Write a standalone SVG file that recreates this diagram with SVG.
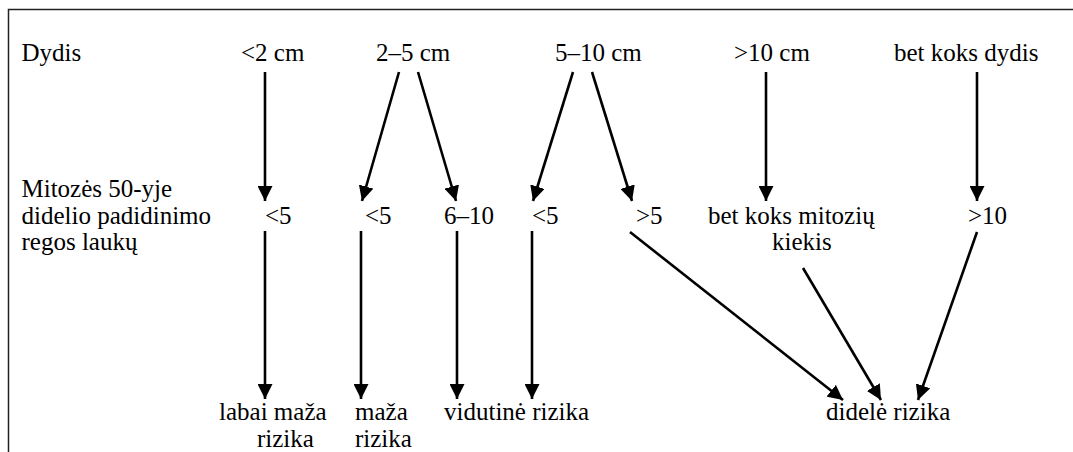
<svg xmlns="http://www.w3.org/2000/svg" width="1073" height="452" viewBox="0 0 1073 452">
<defs>
<marker id="ah" markerUnits="userSpaceOnUse" markerWidth="15" markerHeight="15" refX="14" refY="7" orient="auto" viewBox="0 0 14 14">
<path d="M0,0 L14,7 L0,14 z" fill="#000"/>
</marker>
</defs>
<rect width="1073" height="452" fill="#fff"/>
<path d="M8.5,452 V9.5 H1073" stroke="#222" stroke-width="1.5" fill="none"/>
<g id="labels">
<text font-family="Liberation Serif" font-size="25" x="21.5" y="61">Dydis</text>
<text font-family="Liberation Serif" font-size="25" x="21.5" y="197">Mitozės 50-yje</text>
<text font-family="Liberation Serif" font-size="25" x="21.5" y="223.5">didelio padidinimo</text>
<text font-family="Liberation Serif" font-size="25" x="21.5" y="250">regos laukų</text>
</g>
<g id="size-lt2"><text font-family="Liberation Serif" font-size="25" x="241" y="61">&lt;2 cm</text></g>
<g id="size-2-5"><text font-family="Liberation Serif" font-size="25" x="376" y="61">2–5 cm</text></g>
<g id="size-5-10"><text font-family="Liberation Serif" font-size="25" x="555" y="61">5–10 cm</text></g>
<g id="size-gt10"><text font-family="Liberation Serif" font-size="25" x="734" y="61">&gt;10 cm</text></g>
<g id="size-any"><text font-family="Liberation Serif" font-size="25" x="894" y="61">bet koks dydis</text></g>
<g id="m1"><text font-family="Liberation Serif" font-size="25" x="265" y="223.5">&lt;5</text></g>
<g id="m2"><text font-family="Liberation Serif" font-size="25" x="365" y="223.5">&lt;5</text></g>
<g id="m3"><text font-family="Liberation Serif" font-size="25" x="444" y="223.5">6–10</text></g>
<g id="m4"><text font-family="Liberation Serif" font-size="25" x="532" y="223.5">&lt;5</text></g>
<g id="m5"><text font-family="Liberation Serif" font-size="25" x="636" y="223.5">&gt;5</text></g>
<g id="m6"><text font-family="Liberation Serif" font-size="25" x="708" y="223.5">bet koks mitozių</text><text font-family="Liberation Serif" font-size="25" x="772" y="250">kiekis</text></g>
<g id="m7"><text font-family="Liberation Serif" font-size="25" x="968" y="223.5">&gt;10</text></g>
<g id="r1"><text font-family="Liberation Serif" font-size="25" x="219" y="420">labai maža</text><text font-family="Liberation Serif" font-size="25" x="257" y="446.5">rizika</text></g>
<g id="r2"><text font-family="Liberation Serif" font-size="25" x="355" y="420">maža</text><text font-family="Liberation Serif" font-size="25" x="355" y="446.5">rizika</text></g>
<g id="r3"><text font-family="Liberation Serif" font-size="25" x="444" y="420">vidutinė rizika</text></g>
<g id="r4"><text font-family="Liberation Serif" font-size="25" x="826" y="420">didelė rizika</text></g>
<g id="connectors" stroke="#000" stroke-width="2.6" fill="none" marker-end="url(#ah)">
<line x1="265" y1="72" x2="265" y2="201"/>
<line x1="399" y1="72" x2="362" y2="201"/>
<line x1="418" y1="72" x2="456" y2="201"/>
<line x1="573" y1="72" x2="533" y2="201"/>
<line x1="592" y1="72" x2="632" y2="201"/>
<line x1="766" y1="72" x2="766" y2="201"/>
<line x1="977" y1="72" x2="977" y2="201"/>
<line x1="265" y1="231" x2="265" y2="399"/>
<line x1="361" y1="231" x2="361" y2="399"/>
<line x1="457" y1="231" x2="457" y2="399"/>
<line x1="532" y1="231" x2="532" y2="399"/>
<line x1="630" y1="232" x2="843" y2="400"/>
<line x1="803" y1="268" x2="881" y2="400"/>
<line x1="977" y1="232" x2="918" y2="400"/>
</g>
</svg>
